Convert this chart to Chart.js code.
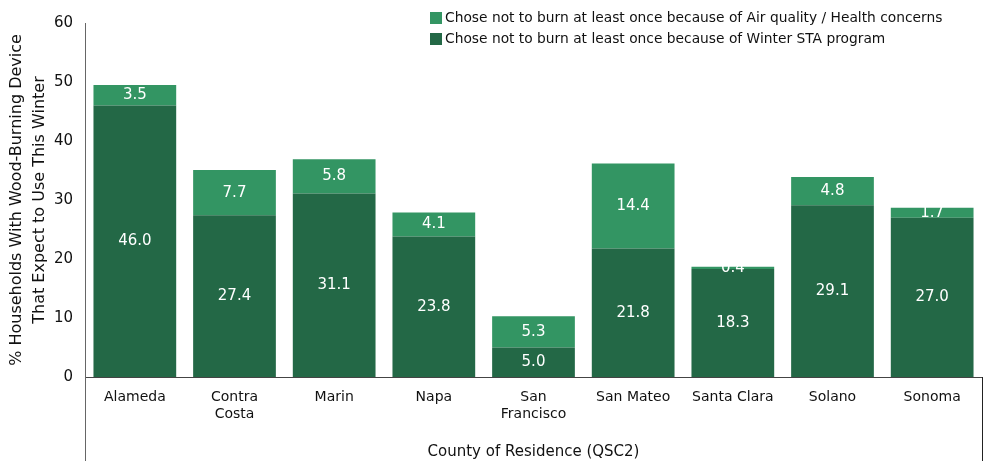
<!DOCTYPE html>
<html>
<head>
<meta charset="utf-8">
<script src="https://cdn.jsdelivr.net/npm/chart.js@4.4.0/dist/chart.umd.min.js"></script>
<style>
  html, body { margin: 0; padding: 0; background: #fff; }
  #wrap { width: 998px; height: 461px; }
</style>
</head>
<body>
<div id="wrap"><canvas id="chart" width="998" height="461"></canvas></div>
<script>
// Counties and the two stacked series (percent of households)
const counties = ['Alameda', ['Contra', 'Costa'], 'Marin', 'Napa', ['San', 'Francisco'], 'San Mateo', 'Santa Clara', 'Solano', 'Sonoma'];
const winterSTA = [46.0, 27.4, 31.1, 23.8, 5.0, 21.8, 18.3, 29.1, 27.0];
const airQuality = [3.5, 7.7, 5.8, 4.1, 5.3, 14.4, 0.4, 4.8, 1.7];
const yTicks = [0, 10, 20, 30, 40, 50, 60];

const DARK = '#236846';
const LIGHT = '#339563';
const FONT = '"DejaVu Sans", sans-serif';

// white value labels in the middle of each segment
const segLabels = {
  id: 'segLabels',
  afterDatasetsDraw(chart) {
    const ctx = chart.ctx;
    ctx.save();
    ctx.font = '15px ' + FONT;
    ctx.fillStyle = '#fff';
    ctx.textAlign = 'center';
    ctx.textBaseline = 'middle';
    chart.data.datasets.forEach((ds, i) => {
      chart.getDatasetMeta(i).data.forEach((bar, j) => {
        const y = (bar.y + bar.base) / 2;
        ctx.fillText(ds.data[j].toFixed(1), bar.x, y);
      });
    });
    ctx.restore();
  }
};

// axis titles, legend and the frame lines under the x axis
const extras = {
  id: 'extras',
  afterDraw(chart) {
    const ctx = chart.ctx;
    const a = chart.chartArea;
    const H = chart.height;
    ctx.save();

    ctx.strokeStyle = '#666';
    ctx.lineWidth = 1;
    ctx.beginPath();
    ctx.moveTo(a.left + 0.5, a.top);
    ctx.lineTo(a.left + 0.5, H);
    ctx.stroke();
    ctx.strokeStyle = '#222';
    ctx.beginPath();
    ctx.moveTo(a.right + 0.5, a.bottom);
    ctx.lineTo(a.right + 0.5, H);
    ctx.stroke();

    ctx.fillStyle = '#111';
    ctx.textAlign = 'center';
    ctx.textBaseline = 'middle';
    ctx.font = '15px ' + FONT;
    ctx.fillText('County of Residence (QSC2)', (a.left + a.right) / 2, 452);

    ctx.save();
    ctx.font = '16px ' + FONT;
    ctx.translate(17, 200);
    ctx.rotate(-Math.PI / 2);
    ctx.fillText('% Households With Wood-Burning Device', 0, 0);
    ctx.fillText('That Expect to Use This Winter', 0, 23);
    ctx.restore();

    // legend
    const items = [
      [LIGHT, 'Chose not to burn at least once because of Air quality / Health concerns'],
      [DARK, 'Chose not to burn at least once because of Winter STA program']
    ];
    ctx.font = '13.8px ' + FONT;
    ctx.textAlign = 'left';
    items.forEach(([c, t], i) => {
      const y = 18 + i * 21;
      ctx.fillStyle = c;
      ctx.fillRect(430, y - 6, 12, 12);
      ctx.fillStyle = '#111';
      ctx.fillText(t, 445, y);
    });
    ctx.restore();
  }
};

new Chart(document.getElementById('chart'), {
  type: 'bar',
  data: {
    labels: counties,
    datasets: [
      { label: 'Winter STA program', data: winterSTA, backgroundColor: DARK, categoryPercentage: 1, barPercentage: 0.83 },
      { label: 'Air quality / Health concerns', data: airQuality, backgroundColor: LIGHT, categoryPercentage: 1, barPercentage: 0.83 }
    ]
  },
  options: {
    responsive: false,
    animation: false,
    layout: { padding: { top: 23, right: 16, left: 0, bottom: 0 } },
    plugins: { legend: { display: false }, tooltip: { enabled: false } },
    scales: {
      x: {
        stacked: true,
        grid: { display: false, drawTicks: false },
        border: { display: true, color: '#444' },
        ticks: { color: '#111', font: { family: FONT, size: 14 }, padding: 12, maxRotation: 0, autoSkip: false },
        afterFit: s => { s.height = 84; }
      },
      y: {
        stacked: true,
        min: 0, max: 60,
        grid: { display: false, drawTicks: false },
        border: { display: false },
        afterBuildTicks: s => { s.ticks = yTicks.map(v => ({ value: v })); },
        ticks: { color: '#111', font: { family: FONT, size: 15 }, padding: 12 },
        afterFit: s => { s.width = 85; }
      }
    }
  },
  plugins: [segLabels, extras]
});
</script>
</body>
</html>
